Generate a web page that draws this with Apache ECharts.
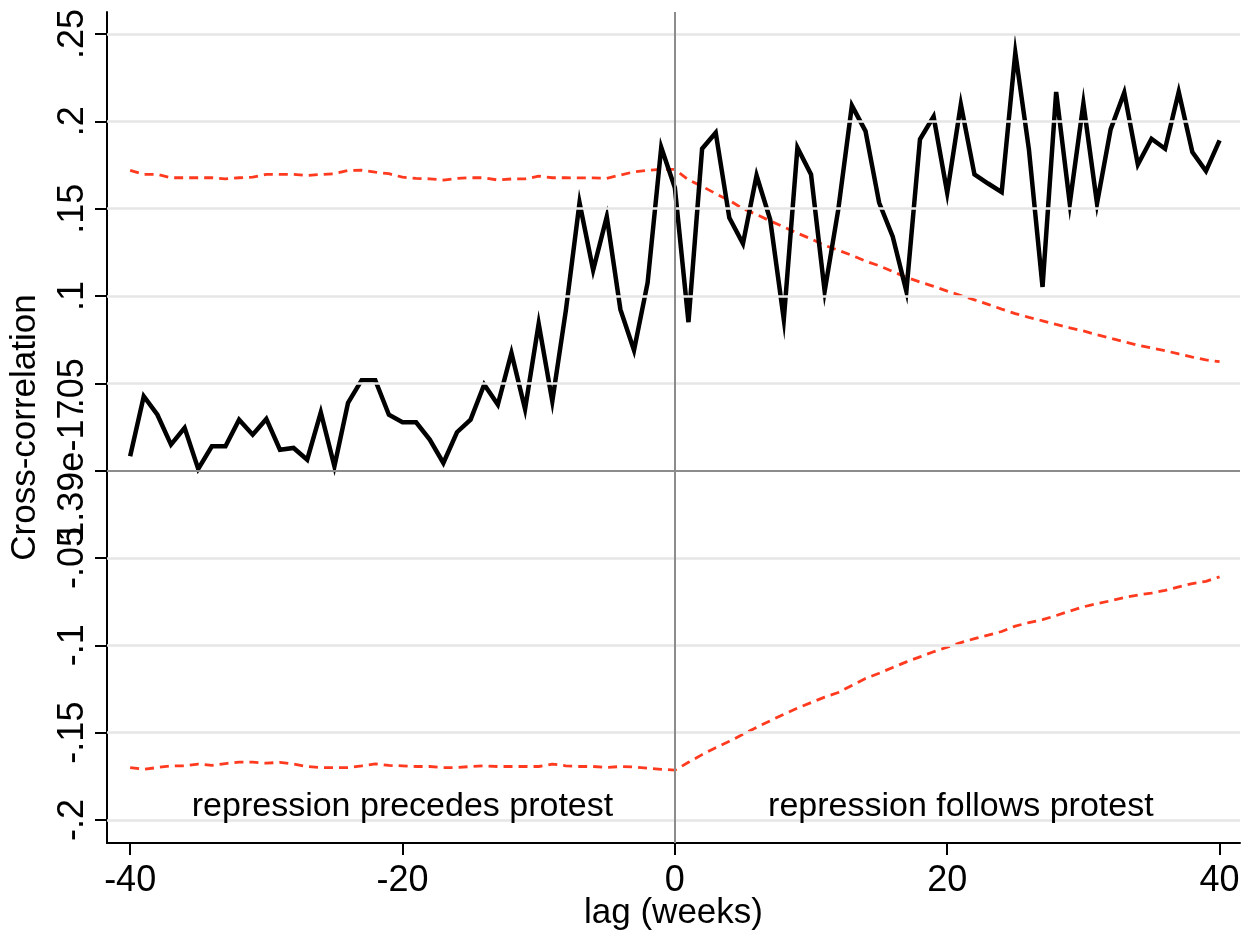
<!DOCTYPE html>
<html>
<head>
<meta charset="utf-8">
<script src="https://cdn.jsdelivr.net/npm/echarts@6/dist/echarts.min.js"></script>
<style>html,body{margin:0;padding:0;background:#fff;}#c{width:1252px;height:936px;}</style>
</head>
<body>
<div id="c"></div>
<script>
const lags = [-40,-39,-38,-37,-36,-35,-34,-33,-32,-31,-30,-29,-28,-27,-26,-25,-24,-23,-22,-21,-20,-19,-18,-17,-16,-15,-14,-13,-12,-11,-10,-9,-8,-7,-6,-5,-4,-3,-2,-1,0,1,2,3,4,5,6,7,8,9,10,11,12,13,14,15,16,17,18,19,20,21,22,23,24,25,26,27,28,29,30,31,32,33,34,35,36,37,38,39,40];
const crossCorr = [0.0082,0.0426,0.032,0.0149,0.0245,0.001,0.0139,0.0139,0.0292,0.0206,0.0296,0.012,0.013,0.0063,0.0334,0.0025,0.0388,0.0518,0.0518,0.032,0.0277,0.0277,0.0178,0.0044,0.022,0.0292,0.0493,0.0378,0.0674,0.0353,0.0842,0.0397,0.092,0.1534,0.1148,0.1454,0.0923,0.0689,0.1076,0.1851,0.162,0.085,0.1843,0.1935,0.1448,0.130,0.169,0.1438,0.0865,0.1849,0.1696,0.1027,0.1495,0.209,0.1944,0.1534,0.134,0.1027,0.1897,0.2027,0.1591,0.2097,0.1696,0.1644,0.1595,0.2393,0.1839,0.1052,0.2168,0.153,0.2103,0.153,0.1954,0.2164,0.1753,0.19,0.1843,0.2168,0.1824,0.1715,0.1891];
const upperBound = [0.1719,0.1696,0.1696,0.1677,0.1677,0.1677,0.1677,0.1671,0.1677,0.168,0.1696,0.1696,0.1696,0.169,0.1696,0.170,0.1719,0.172,0.1709,0.170,0.168,0.1673,0.1671,0.1664,0.1673,0.1677,0.1677,0.1664,0.167,0.167,0.1686,0.1677,0.1677,0.1676,0.1676,0.1674,0.1692,0.1711,0.1719,0.1725,0.1725,0.1665,0.1628,0.1586,0.1547,0.150,0.1466,0.143,0.1395,0.136,0.1327,0.129,0.1262,0.1233,0.120,0.1173,0.114,0.1107,0.108,0.1055,0.1028,0.1003,0.0978,0.0952,0.0925,0.0899,0.0878,0.0858,0.0837,0.0818,0.080,0.0778,0.0758,0.0738,0.0718,0.0702,0.0687,0.0668,0.065,0.0634,0.0624];
const lowerBound = [-0.170,-0.171,-0.170,-0.169,-0.169,-0.168,-0.1688,-0.1677,-0.1669,-0.1669,-0.1675,-0.167,-0.168,-0.1694,-0.170,-0.170,-0.170,-0.169,-0.1679,-0.1688,-0.169,-0.1694,-0.1694,-0.170,-0.170,-0.1694,-0.169,-0.1694,-0.1694,-0.1694,-0.1694,-0.168,-0.169,-0.1694,-0.1694,-0.170,-0.1694,-0.1697,-0.1704,-0.171,-0.1715,-0.167,-0.1626,-0.1586,-0.155,-0.151,-0.147,-0.1432,-0.1395,-0.136,-0.1328,-0.1297,-0.127,-0.123,-0.119,-0.116,-0.1127,-0.1095,-0.1066,-0.1037,-0.1011,-0.0985,-0.0962,-0.0942,-0.0921,-0.089,-0.087,-0.0853,-0.083,-0.0804,-0.078,-0.0762,-0.0745,-0.0727,-0.0712,-0.0701,-0.0686,-0.0665,-0.0647,-0.0634,-0.0608];
const yTickValues = [-0.2,-0.15,-0.1,-0.05,0,0.05,0.1,0.15,0.2,0.25];
const yTickLabels = ['-.2','-.15','-.1','-.05','1.39e-17','.05','.1','.15','.2','.25'];
const xTickValues = [-40,-20,0,20,40];
const xTickLabels = ['-40','-20','0','20','40'];
const noteText = ['repression precedes protest','repression follows protest'];
const noteLag = [-20,21];
const noteValue = [-0.1925,-0.1925];

const FONT = "'Liberation Sans', Arial, Helvetica, sans-serif";
const pair = arr => lags.map((l,i)=>[l,arr[i]]);
function yLab(v){ for(let i=0;i<yTickValues.length;i++){ if(Math.abs(v-yTickValues[i])<1e-6) return yTickLabels[i]; } return ''; }
function xLab(v){ for(let i=0;i<xTickValues.length;i++){ if(Math.abs(v-xTickValues[i])<1e-6) return xTickLabels[i]; } return ''; }

const chart = echarts.init(document.getElementById('c'));
chart.setOption({
  backgroundColor:'#ffffff',
  animation:false,
  textStyle:{fontFamily:FONT},
  grid:{left:107,top:12,right:12,bottom:93,containLabel:false,outerBoundsMode:'none'},
  xAxis:{
    type:'value', min:-41.7, max:41.5,
    name:'lag (weeks)', nameLocation:'middle', nameGap:53, nameMoveOverlap:false,
    nameTextStyle:{fontSize:35,color:'#000',fontFamily:FONT},
    axisLine:{show:true,onZero:false,lineStyle:{color:'#000',width:2}},
    axisTick:{show:true,length:12,inside:false,customValues:xTickValues,lineStyle:{color:'#000',width:2}},
    axisLabel:{show:true,customValues:xTickValues,formatter:xLab,fontSize:36,color:'#000',margin:20,fontFamily:FONT},
    splitLine:{show:false}
  },
  yAxis:{
    type:'value', min:-0.2132, max:0.2626,
    name:'Cross-correlation', nameLocation:'middle', nameGap:64, nameRotate:90,
    nameTextStyle:{fontSize:35,color:'#000',fontFamily:FONT},
    axisLine:{show:true,onZero:false,lineStyle:{color:'#000',width:2}},
    axisTick:{show:true,length:12,inside:false,customValues:yTickValues,lineStyle:{color:'#000',width:2}},
    axisLabel:{show:true,customValues:yTickValues,formatter:yLab,rotate:90,fontSize:36,color:'#000',margin:16,fontFamily:FONT},
    splitLine:{show:false}
  },
  series:[
    {
      type:'line', data:[], z:1, silent:true,
      markLine:{
        silent:true, symbol:['none','none'], label:{show:false}, animation:false,
        lineStyle:{color:'#e6e6e6',width:2.5,type:'solid'},
        data: yTickValues.filter(v=>v!==0).map(v=>({yAxis:v}))
      }
    },
    {
      type:'line', data:[], z:2, silent:true,
      markLine:{
        silent:true, symbol:['none','none'], label:{show:false}, animation:false,
        lineStyle:{color:'#8c8c8c',width:2,type:'solid'},
        data:[{yAxis:0},{xAxis:0}]
      }
    },
    {
      type:'line', data:pair(upperBound), z:3, showSymbol:false, symbol:'none',
      lineStyle:{color:'#ff3a1f',width:2.8,type:[9,6]}
    },
    {
      type:'line', data:pair(lowerBound), z:3, showSymbol:false, symbol:'none',
      lineStyle:{color:'#ff3a1f',width:2.8,type:[9,6]}
    },
    {
      type:'line', data:pair(crossCorr), z:4, showSymbol:false, symbol:'none',
      lineStyle:{color:'#000',width:4.5,join:'miter'}
    },
    {
      type:'scatter', z:5, symbolSize:0, silent:true,
      itemStyle:{opacity:1},
      data: noteText.map((t,i)=>({value:[noteLag[i],noteValue[i]],name:t})),
      label:{show:true,position:'inside',formatter:p=>p.name,fontSize:34,color:'#000',opacity:1,textBorderWidth:0,fontFamily:FONT}
    }
  ]
});
</script>
</body>
</html>
